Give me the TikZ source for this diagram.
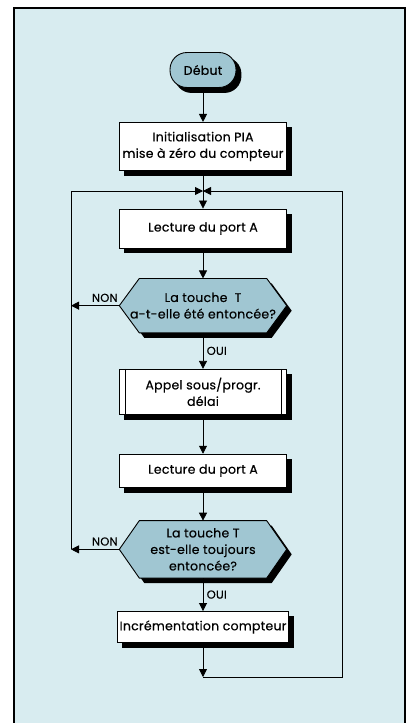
\documentclass[tikz,border=0pt]{standalone}
\usepackage{fontspec}
\setmainfont{Poppins}[LetterSpace=2,FakeBold=0.4]
\usetikzlibrary{arrows.meta,positioning,backgrounds}
\definecolor{paper}{RGB}{216,236,240}
\definecolor{testfill}{RGB}{160,198,210}
% contour hexagonal d'un test, decale de (#2,#3)
\newcommand{\hexapath}[3]{([xshift=#2,yshift=#3]#1.west) -- ([xshift=20pt+#2,yshift=#3]#1.north west)
  -- ([xshift=-20pt+#2,yshift=#3]#1.north east) -- ([xshift=#2,yshift=#3]#1.east)
  -- ([xshift=-20pt+#2,yshift=#3]#1.south east) -- ([xshift=20pt+#2,yshift=#3]#1.south west) -- cycle}

\begin{document}
\begin{tikzpicture}[x=1pt,y=-1pt,
  every node/.style={font=\fontsize{12.5}{16.5}\selectfont},
  box/.style={draw,fill=white,line width=0.9pt,minimum width=167pt,inner sep=2pt,align=center},
  term/.style={draw,fill=testfill,rounded corners=17pt,minimum width=66pt,minimum height=35pt,line width=0.9pt},
  test/.style={minimum width=167pt,inner sep=2pt,align=center},
  hexa/.style={line width=0.9pt},
  arr/.style={-{Triangle[length=8pt,width=8pt]},line width=0.8pt},
  lin/.style={line width=0.8pt},
  lbl/.style={font=\fontsize{11.5}{13}\selectfont}]
  \useasboundingbox (0,0) rectangle (416,723);
  \node[term] (debut) at (203,70) {Début};
  \node[box,minimum height=48pt,below=34pt of debut] (init) {Initialisation PIA\\mise à zéro du compteur};
  \coordinate (jn) at (203,191);
  \node[box,minimum height=39pt] (lect1) at (203,228.5) {Lecture du port A};
  \node[test,minimum height=54pt,below=30pt of lect1] (test1) {La touche~~T\\a-t-elle été entoncée?};
  \node[box,minimum height=45pt,below=36pt of test1] (appel) {Appel sous/progr.\\délai};
  \node[box,minimum height=33pt,below=39pt of appel] (lect2) {Lecture du port A};
  \node[test,minimum height=57pt,below=33pt of lect2] (test2) {La touche T\\est-elle toujours\\entoncée?};
  \node[box,minimum height=31pt,below=33pt of test2] (incr) {Incrémentation compteur};
  \coordinate (gauche) at (71,191);
  \coordinate (bas) at (203,677);
  \coordinate (droite) at (342,677);
  % fond, cadre, ombres et tests
  \begin{scope}[on background layer]
    \fill[paper] (14,8) rectangle (405,723);
    \draw[line width=2pt] (14,723) -- (14,8) -- (405,8) -- (405,723);
    \fill[rounded corners=17pt] ([xshift=5pt,yshift=-5pt]debut.north west) rectangle ([xshift=5pt,yshift=-5pt]debut.south east);
    \foreach \n in {init,lect1,appel,lect2,incr}
      \fill ([xshift=5pt,yshift=-5pt]\n.north west) rectangle ([xshift=5pt,yshift=-5pt]\n.south east);
    \foreach \n in {test1,test2}{
      \fill \hexapath{\n}{5pt}{-5pt};
      \draw[hexa,fill=testfill] \hexapath{\n}{0pt}{0pt};
    }
  \end{scope}
  % boite sous-programme
  \draw[lin] ([xshift=6pt]appel.north west) -- ([xshift=6pt]appel.south west);
  \draw[lin] ([xshift=-6pt]appel.north east) -- ([xshift=-6pt]appel.south east);
  \draw[arr] (debut) -- (init);
  \draw[lin] (init) -- (jn);
  \draw[arr] (jn) -- (lect1);
  \draw[arr] (lect1) -- (test1);
  \draw[arr] (test1) -- node[lbl,right]{OUI} (appel);
  \draw[arr] (appel) -- (lect2);
  \draw[arr] (lect2) -- (test2);
  \draw[arr] (test2) -- node[lbl,right]{OUI} (incr);
  \draw[arr] (incr) -- (bas);
  \draw[arr] (test1.west) -- node[lbl,above,pos=0.3]{NON} (test1.west -| gauche);
  \draw[arr] (test2.west) -- node[lbl,above,pos=0.3]{NON} (test2.west -| gauche);
  \draw[arr] (test2.west -| gauche) -- (gauche) -- (jn);
  \draw[arr] (bas) -- (droite) -- (droite |- jn) -- (jn);
\end{tikzpicture}
\end{document}
